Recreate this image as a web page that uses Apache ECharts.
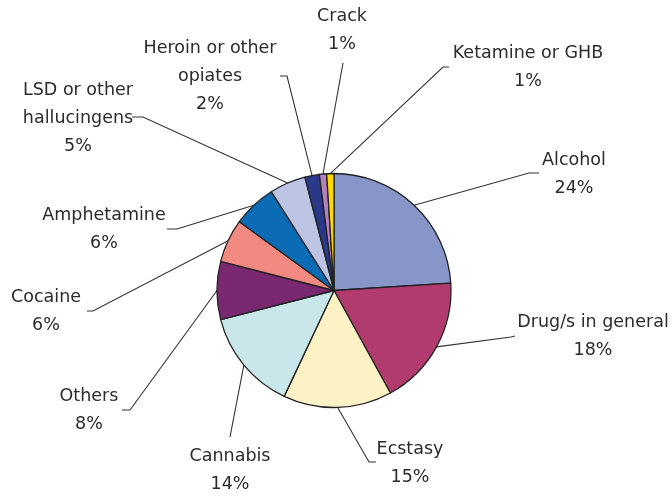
<!DOCTYPE html>
<html>
<head>
<meta charset="utf-8">
<script src="https://cdn.jsdelivr.net/npm/echarts@6/dist/echarts.min.js"></script>
<style>
  html, body { margin: 0; padding: 0; background: #ffffff; }
  #chart { width: 672px; height: 497px; }
</style>
</head>
<body>
<div id="chart"></div>
<script>
// Reasons given for the call, share of all calls (%)
const categories = [
  'Alcohol', 'Drug/s in general', 'Ecstasy', 'Cannabis', 'Others', 'Cocaine',
  'Amphetamine', 'LSD or other\nhallucingens', 'Heroin or other\nopiates', 'Crack', 'Ketamine or GHB'
];
const shares = [24, 18, 15, 14, 8, 6, 6, 5, 2, 1, 1];

const sliceColors = [
  '#8795c8', '#b13b6e', '#fdf2c5', '#c9e7ea', '#7a2872', '#f28a82',
  '#0b6cb5', '#bdc3e3', '#2a388a', '#b47ec2', '#ffd800'
];

// Where each label sits (centre of the text block) and how its leader bends:
// [labelX, labelY, elbowX, elbowY, endX, endY]
const labelSpots = [
  [574, 174, 529, 173, 539, 173],
  [593, 336, 511, 337, 515, 336],
  [410, 463, 369, 462, 376, 462],
  [230, 470, 230, 437, 230, 437],
  [ 89, 410, 130, 410, 122, 410],
  [ 46, 311,  93, 311,  87, 311],
  [104, 229, 177, 229, 167, 229],
  [ 78, 118, 143, 117, 132, 117],
  [210,  76, 287,  76, 280,  76],
  [342,  30, 343,  63, 343,  63],
  [528,  67, 443,  67, 449,  67]
];

const chart = echarts.init(document.getElementById('chart'), null, { renderer: 'canvas' });

chart.setOption({
  backgroundColor: '#ffffff',
  animation: false,
  series: [{
    type: 'pie',
    center: [334, 290.5],
    radius: 117,
    startAngle: 90,
    clockwise: true,
    avoidLabelOverlap: false,
    data: categories.map((name, i) => ({
      name: name,
      value: shares[i],
      itemStyle: { color: sliceColors[i] }
    })),
    itemStyle: { borderColor: '#222222', borderWidth: 1.3 },
    label: {
      show: true,
      position: 'outside',
      formatter: '{b}\n{c}%',
      fontFamily: 'DejaVu Sans',
      fontSize: 17.5,
      lineHeight: 28,
      color: '#2b2b2b',
      align: 'center'
    },
    labelLine: {
      show: true,
      length: 20,
      length2: 10,
      lineStyle: { color: '#333333', width: 1.1 }
    },
    labelLayout: function (params) {
      const s = labelSpots[params.dataIndex];
      const start = params.labelLinePoints ? params.labelLinePoints[0] : [s[2], s[3]];
      return {
        x: s[0],
        y: s[1],
        align: 'center',
        verticalAlign: 'middle',
        labelLinePoints: [start, [s[2], s[3]], [s[4], s[5]]]
      };
    },
    emphasis: { disabled: true }
  }]
});
</script>
</body>
</html>
